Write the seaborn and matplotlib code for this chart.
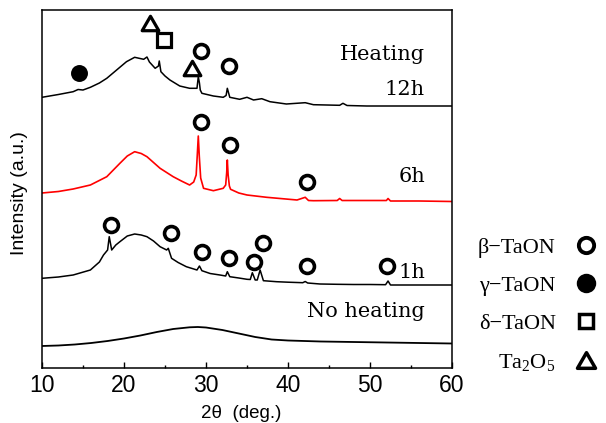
import matplotlib
matplotlib.use("Agg")
import matplotlib.pyplot as plt
import seaborn as sns
import pandas as pd
from matplotlib.lines import Line2D
from matplotlib.path import Path
from matplotlib.ticker import MultipleLocator

# ---------------- data ----------------
x_noheat = [10, 12, 14, 16, 18, 20, 22, 24, 26, 28, 29, 30, 32, 34, 36, 38, 40, 44, 48, 52, 56, 60]
y_noheat = [22, 22.5, 23.5, 25, 27, 29.5, 32.5, 36, 39, 40.7, 41, 40.5, 38, 34.5, 31, 28.5, 27.5,
            26.5, 26, 25.5, 25, 24.5]

x_1h = [10, 12, 13.8, 15.9, 17.0, 17.5, 18.0, 18.2, 18.5, 19.0, 19.5, 20.4, 21.3, 22.1, 22.8, 23.6,
        24.4, 25.2, 25.4, 25.8, 26.6, 27.6, 28.9, 29.2, 29.5, 30.5, 31.7, 32.4, 32.6, 32.9, 34.0,
        35.0, 35.4, 35.65, 36.0, 36.25, 36.6, 37.0, 38.6, 40, 41.8, 42.1, 42.4, 43.9, 46, 48, 50,
        51.9, 52.2, 52.5, 55, 58, 60]
y_1h = [89.7, 91, 93, 98, 106, 113, 118, 131.3, 118, 123, 126.3, 132, 134, 133, 131.3, 127,
        121.3, 118, 119.7, 109.7, 105.5, 101.3, 98, 102, 97.3, 94.5, 93, 92, 96.3, 91.3, 90,
        88.7, 88.5, 95.3, 88, 88, 98, 87.3, 86.3, 85.8, 85.3, 86.5, 85, 84, 83.7, 83.5, 83.5,
        83.3, 87, 83, 83, 83, 83]

x_6h = [10, 12, 13.8, 15.9, 17.9, 19.5, 20.4, 21.3, 22.1, 22.8, 24.4, 26.0, 27.0, 28.0, 28.5,
        28.8, 28.95, 29.06, 29.18, 29.35, 29.7, 30.9, 32.1, 32.4, 32.52, 32.6, 32.7, 32.85, 33.0,
        34.0, 35.0, 37.4, 41.1, 42.1, 42.5, 43.1, 46.0, 46.3, 46.6, 50, 52.0, 52.2, 52.5, 56, 60]
y_6h = [175, 176.5, 179, 183, 191.3, 204.7, 212, 216.3, 214.5, 211.3, 199.7, 191.3, 187, 183, 186,
        193, 215, 232, 212, 190, 179.7, 177.3, 179.7, 183, 195, 208, 193, 182, 178.7,
        175, 173, 170.7, 168, 170.7, 167.5, 167.3, 167.5, 169.5, 167.5, 167.5, 167.5, 169.5, 167,
        167, 166.5]

x_12h = [10, 12, 13.8, 14.4, 15.0, 15.9, 17.0, 17.9, 19.1, 20.3, 21.3, 22.4, 22.8, 23.1, 23.8,
         24.2, 24.3, 24.5, 25.0, 25.6, 26.8, 28.0, 28.9, 29.06, 29.2, 29.3, 29.5, 30.9, 32.1,
         32.45, 32.6, 32.9, 34.1, 35.0, 35.8, 36.8, 37.8, 39.8, 42.1, 43.1, 46.3, 46.7, 47.2,
         49.6, 52, 55, 59.4, 60]
y_12h = [270.7, 273.5, 276.3, 278.5, 278, 280.7, 285, 289.7, 298, 306.3, 310.7, 308.7, 311, 306,
         299.7, 302, 307, 296.3, 292, 288, 282, 279.7, 279.7, 291.3, 285, 278, 274.7, 272, 270.7,
         272.5, 279.7, 270.7, 268.7, 270.7, 268, 269.3, 266.3, 264, 265.3, 263.3, 262.7, 264.7,
         262.5, 262, 262, 262, 262, 262]

# phase markers
beta_x = [29.35, 32.84, 29.35, 32.93, 42.35, 18.41, 25.73, 29.48, 32.84, 35.89, 36.99, 42.35, 52.04]
beta_y = [317.3, 302, 246.3, 223, 186.3, 143, 134.7, 116.3, 109.7, 106.3, 124.7, 102, 102]
gamma_x = [14.5]
gamma_y = [295.3]
delta_x = [24.88]
delta_y = [328]
ta2o5_x = [23.17, 28.26]
ta2o5_y = [344.7, 299.7]

sample_labels = ["Heating", "12h", "6h", "1h", "No heating"]
sample_label_y = [308, 273, 186, 90.5, 51.3]

legend_labels = ["\u03b2\u2212TaON", "\u03b3\u2212TaON", "\u03b4\u2212TaON", "Ta$_2$O$_5$"]

xticks = [10, 20, 30, 40, 50, 60]

# ---------------- style ----------------
sns.set_style("white")
plt.rcParams["font.family"] = ["Liberation Sans", "DejaVu Sans"]
plt.rcParams["text.color"] = "black"
plt.rcParams["axes.labelcolor"] = "black"
plt.rcParams["xtick.color"] = "black"
plt.rcParams["ytick.color"] = "black"
plt.rcParams["mathtext.fontset"] = "custom"
plt.rcParams["mathtext.rm"] = "Liberation Serif"
plt.rcParams["mathtext.it"] = "Liberation Serif:italic"
plt.rcParams["mathtext.bf"] = "Liberation Serif:bold"

fig = plt.figure(figsize=(6.06, 4.23), dpi=100)
ax = fig.add_axes([42 / 606, 1 - 368 / 423, 410 / 606, 358 / 423])

curves = [
    (x_noheat, y_noheat, "black", 1.3),
    (x_1h, y_1h, "black", 1.1),
    (x_6h, y_6h, "#ff0000", 1.2),
    (x_12h, y_12h, "black", 1.1),
]
for xs, ys, col, lw in curves:
    df = pd.DataFrame({"x": xs, "y": ys})
    sns.lineplot(data=df, x="x", y="y", ax=ax, color=col, lw=lw, sort=False,
                 estimator=None, legend=False)

tri = Path([(-1, -0.866), (1, -0.866), (0, 0.866), (-1, -0.866)],
           [Path.MOVETO, Path.LINETO, Path.LINETO, Path.CLOSEPOLY])
circ_kw = dict(ls="none", marker="o", ms=10, mfc="white", mec="black", mew=2.6, zorder=4, clip_on=False)
ax.plot(beta_x, beta_y, **circ_kw)
ax.plot(gamma_x, gamma_y, ls="none", marker="o", ms=12.2, mfc="black", mec="black", mew=0, zorder=4)
ax.plot(delta_x, delta_y, ls="none", marker="s", ms=9.5, mfc="white", mec="black", mew=2.3, zorder=4)
ax.plot(ta2o5_x, ta2o5_y, ls="none", marker=tri, ms=12, mfc="white", mec="black", mew=2.3,
        zorder=4, clip_on=False)

for lab, yy in zip(sample_labels, sample_label_y):
    ax.text(56.71, yy, lab, ha="right", va="baseline", fontsize=15,
            family=["DejaVu Serif"], color="black")

ax.set_xlim(10, 60)
ax.set_ylim(0, 358)
ax.set_xticks(xticks)
ax.set_xticklabels([str(t) for t in xticks])
ax.xaxis.set_minor_locator(MultipleLocator(5))
ax.set_yticks([])
ax.tick_params(axis="x", which="both", direction="in", bottom=True, top=False,
               labelsize=16.5, pad=4, width=1, color="black", labelcolor="black")
ax.tick_params(axis="x", which="major", length=4)
ax.tick_params(axis="x", which="minor", length=2.2)
for sp in ax.spines.values():
    sp.set_color("black")
    sp.set_linewidth(1.1)

ax.set_xlabel("2\u03b8  (deg.)", fontsize=13.5, labelpad=6, color="black")
ax.xaxis.label.set_x((241 - 42) / 410)
ax.set_ylabel("Intensity (a.u.)", fontsize=14, color="black")
ax.yaxis.set_label_coords(-0.034, 0.49)

handles = [
    Line2D([], [], ls="none", marker="o", ms=11, mfc="white", mec="black", mew=2.8),
    Line2D([], [], ls="none", marker="o", ms=14, mfc="black", mec="black", mew=0),
    Line2D([], [], ls="none", marker="s", ms=9.5, mfc="white", mec="black", mew=2.5),
    Line2D([], [], ls="none", marker=tri, ms=13, mfc="white", mec="black", mew=2.5),
]
leg = fig.legend(handles, legend_labels, loc="center left",
                 bbox_to_anchor=(478 / 606, 1 - 305 / 423),
                 frameon=False, markerfirst=False, handlelength=1.0, handletextpad=0.85,
                 labelspacing=0.8, borderpad=0, borderaxespad=0,
                 prop={"family": ["Liberation Serif"], "size": 16})
for t in leg.get_texts():
    t.set_color("black")

fig.savefig("out.png", dpi=100)
